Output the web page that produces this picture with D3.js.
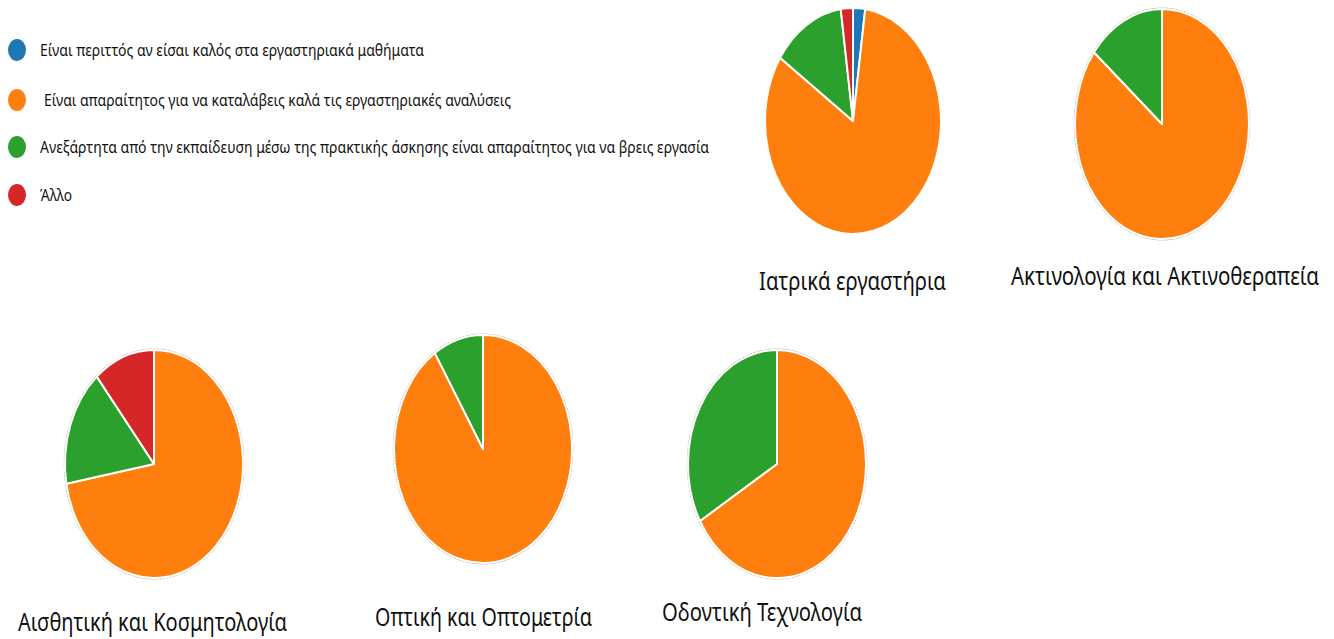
<!DOCTYPE html>
<html>
<head>
<meta charset="utf-8">
<script src="https://cdn.jsdelivr.net/npm/d3@7"></script>
<style>
  html, body { margin: 0; padding: 0; background: #ffffff; }
  svg { display: block; }
</style>
</head>
<body>
<svg id="chart" width="1334" height="639"></svg>
<script>
// ---------- DATA ----------
const categories = [
  "Ιατρικά εργαστήρια",
  "Ακτινολογία και Ακτινοθεραπεία",
  "Αισθητική και Κοσμητολογία",
  "Οπτική και Οπτομετρία",
  "Οδοντική Τεχνολογία"
];
const responses = [
  "Είναι περιττός αν είσαι καλός στα εργαστηριακά μαθήματα",
  "Είναι απαραίτητος για να καταλάβεις καλά τις εργαστηριακές αναλύσεις",
  "Ανεξάρτητα από την εκπαίδευση μέσω της πρακτικής άσκησης είναι απαραίτητος για να βρεις εργασία",
  "Άλλο"
];
// counts per category
const perittos    = [1, 0, 0, 0, 0];
const aparaititos = [37, 6, 13, 10, 2];
const anexartita  = [6, 1, 3, 1, 1];
const allo        = [1, 0, 2, 0, 0];
const colors = ["#1f77b4", "#ff7f0e", "#2ca02c", "#d62728"];

// ---------- LAYOUT ----------
const pieLayout = [
  {cx: 853,  cy: 121, rx: 88, ry: 113, outline: false, label: {x: 759, y: 290, w: 187}},
  {cx: 1162, cy: 124, rx: 87, ry: 115, outline: true,  label: {x: 1011, y: 285, w: 308}},
  {cx: 154,  cy: 464, rx: 89, ry: 114, outline: true,  label: {x: 18,  y: 631, w: 269}},
  {cx: 483,  cy: 449, rx: 89, ry: 114, outline: true,  label: {x: 375, y: 626, w: 217}},
  {cx: 777,  cy: 464, rx: 89, ry: 114, outline: true,  label: {x: 662, y: 621, w: 200}}
];
const legendLayout = [
  {cy: 50,  tx: 40, w: 384},
  {cy: 100, tx: 44, w: 467},
  {cy: 147, tx: 40, w: 669},
  {cy: 195, tx: 40, w: 32}
];

const series = [perittos, aparaititos, anexartita, allo];
const svg = d3.select("#chart");
const fontFam = "'Noto Sans', 'DejaVu Sans', sans-serif";

const color = d3.scaleOrdinal().domain(d3.range(responses.length)).range(colors);
const pie = d3.pie().sort(null).value(d => d.v);
const R = 100;
const arc = d3.arc().innerRadius(0).outerRadius(R);

categories.forEach((cat, ci) => {
  const L = pieLayout[ci];
  const data = series.map((s, si) => ({k: si, v: s[ci]}));
  const g = svg.append("g")
    .attr("transform", `translate(${L.cx},${L.cy}) scale(${L.rx / R},${L.ry / R})`);
  if (L.outline) {
    g.append("ellipse")
      .attr("rx", R + 0.8).attr("ry", R + 0.8)
      .attr("fill", "none")
      .attr("stroke", "#555")
      .attr("stroke-width", 0.9)
      .attr("stroke-dasharray", "2,1")
      .attr("stroke-opacity", 0.7)
      .attr("vector-effect", "non-scaling-stroke");
  }
  g.selectAll("path.slice")
    .data(pie(data).filter(d => d.data.v > 0))
    .join("path")
    .attr("class", "slice")
    .attr("d", arc)
    .attr("fill", d => color(d.data.k))
    .attr("stroke", "#ffffff")
    .attr("stroke-width", 2)
    .attr("stroke-linejoin", "round")
    .attr("vector-effect", "non-scaling-stroke");

  svg.append("g")
    .attr("transform", `translate(${L.label.x},${L.label.y}) scale(1,1.25)`)
    .append("text")
    .attr("x", 0).attr("y", 0)
    .attr("font-family", fontFam)
    .attr("font-size", 20)
    .attr("fill", "#111")
    .attr("textLength", L.label.w)
    .attr("lengthAdjust", "spacingAndGlyphs")
    .text(cat);
});

// ---------- LEGEND ----------
const leg = svg.append("g");
responses.forEach((r, i) => {
  const L = legendLayout[i];
  leg.append("ellipse")
    .attr("cx", 17).attr("cy", L.cy)
    .attr("rx", 9).attr("ry", 11)
    .attr("fill", color(i));
  leg.append("g")
    .attr("transform", `translate(${L.tx},${L.cy + 6}) scale(1,1.15)`)
    .append("text")
    .attr("font-family", fontFam)
    .attr("font-size", 14)
    .attr("fill", "#111")
    .attr("textLength", L.w)
    .attr("lengthAdjust", "spacingAndGlyphs")
    .text(r);
});
</script>
</body>
</html>
